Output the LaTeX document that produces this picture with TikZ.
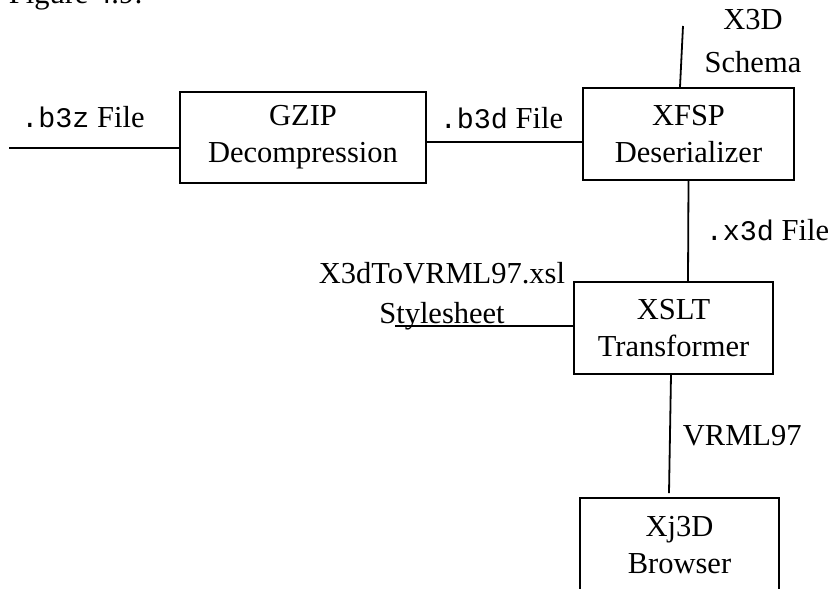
\documentclass[tikz,border=0pt]{standalone}
\usepackage{fontspec}
\setmainfont{Liberation Serif}
\setmonofont[Scale=0.93]{Liberation Mono}
\begin{document}
\begin{tikzpicture}[x=1pt,y=-1pt,line width=1.8pt,
    stage/.style={draw,inner sep=0pt,align=center},
    txt/.style={inner sep=0pt,align=center}]
    \fontsize{30.5}{37}\selectfont
    \useasboundingbox (0,0) rectangle (833,589);
    \node[txt,anchor=base west] (cap) at (8,4) {Figure 4.9:};

    \node[stage,minimum width=246pt,minimum height=91pt] (gzip) at (303,137.5) {GZIP\\Decompression};
    \node[stage,minimum width=211pt,minimum height=92pt] (xfsp) at (688.5,134) {XFSP\\Deserializer};
    \node[stage,minimum width=199pt,minimum height=92pt] (xslt) at (673.5,328) {XSLT\\Transformer};
    \node[stage,minimum width=199pt,minimum height=95pt] (xj3d) at (679.5,545.5) {Xj3D\\Browser};

    \coordinate (b3zin) at (9,148);
    \coordinate (schemain) at (683,26);
    \coordinate (xslin) at (395,326);
    \draw (b3zin) -- (b3zin -| gzip.west);
    \draw ([yshift=-4.5pt]gzip.east) -- ([yshift=-4.5pt]gzip.east -| xfsp.west);
    \draw (schemain) -- ([xshift=-8.5pt]xfsp.north);
    \draw (xfsp.south) -- ([xshift=14.5pt]xslt.north);
    \draw (xslin) -- (xslin -| xslt.west);
    \draw ([xshift=-2.5pt]xslt.south) -- ([xshift=-10.5pt,yshift=4pt]xj3d.north);

    \node[txt,anchor=base] (b3z) at (83,127) {\texttt{.b3z} File};
    \node[txt,anchor=base] (b3d) at (501.5,128) {\texttt{.b3d} File};
    \node[txt] (schema) at (753,41) {X3D\\[6pt]Schema};
    \node[txt,anchor=base west] (x3d) at (705,240) {\texttt{.x3d} File};
    \node[txt] (xsl) at (442,296) {X3dToVRML97.xsl\\[3pt]Stylesheet};
    \node[txt,anchor=base west] (vrml) at (682,445) {VRML97};
\end{tikzpicture}
\end{document}
